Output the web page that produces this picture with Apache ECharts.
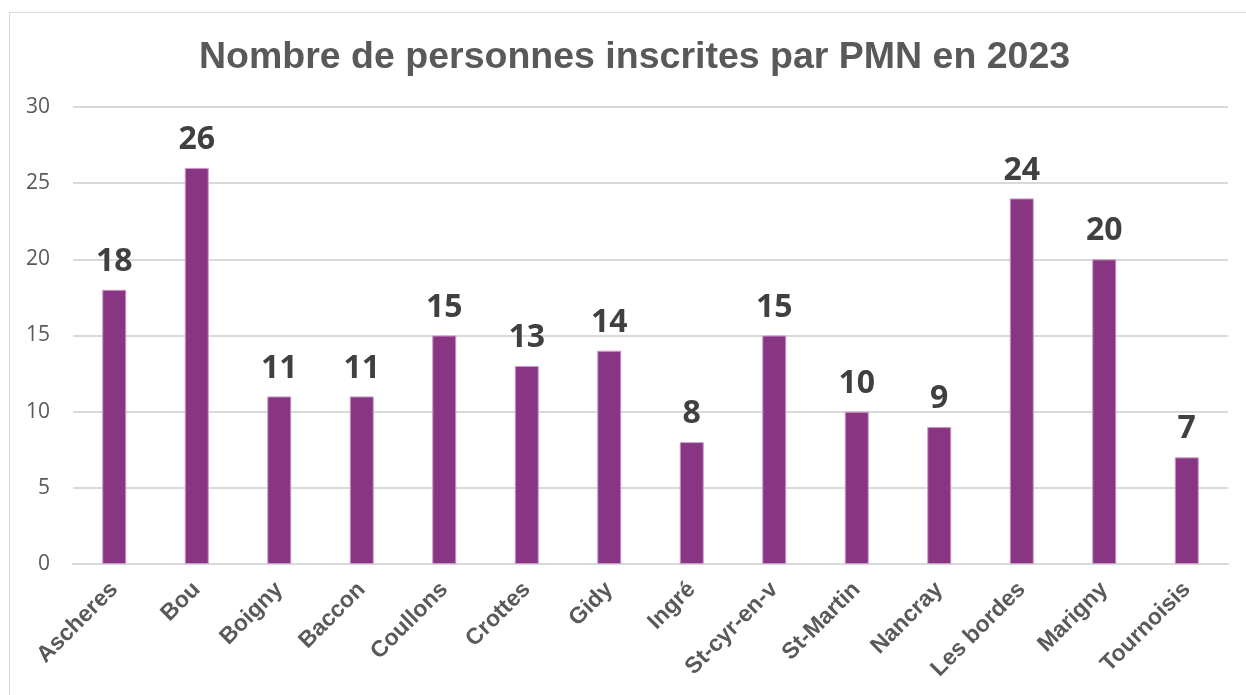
<!DOCTYPE html>
<html>
<head>
<meta charset="utf-8">
<script src="https://cdn.jsdelivr.net/npm/echarts@6/dist/echarts.min.js"></script>
<style>
  html, body { margin: 0; padding: 0; background: #fff; }
  #frame { position: absolute; left: 9px; top: 12px; width: 1300px; height: 760px; border: 1px solid #d9d9d9; }
  #chart { position: absolute; left: 0; top: 0; width: 1246px; height: 695px; }
</style>
</head>
<body>
<div id="frame"></div>
<div id="chart"></div>
<script>
var communes = ['Ascheres', 'Bou', 'Boigny', 'Baccon', 'Coullons', 'Crottes', 'Gidy', 'Ingré',
                'St-cyr-en-v', 'St-Martin', 'Nancray', 'Les bordes', 'Marigny', 'Tournoisis'];
var inscrits = [18, 26, 11, 11, 15, 13, 14, 8, 15, 10, 9, 24, 20, 7];

var myChart = echarts.init(document.getElementById('chart'));
var option = {
    title: {
        text: 'Nombre de personnes inscrites par PMN en 2023',
        left: 194,
        top: 34,
        textStyle: {
            fontFamily: 'Liberation Sans',
            fontWeight: 'bold',
            fontSize: 37.5,
            color: '#595959'
        }
    },
    grid: {
        left: 73,
        right: 18,
        top: 107,
        bottom: 131,
        containLabel: false
    },
    xAxis: {
        type: 'category',
        data: communes,
        axisLine: { lineStyle: { color: '#d9d9d9', width: 2 } },
        axisTick: { show: false },
        axisLabel: {
            rotate: 45,
            interval: 0,
            margin: 22,
            fontFamily: 'Liberation Sans',
            fontWeight: 'bold',
            fontSize: 23,
            color: '#595959'
        }
    },
    yAxis: {
        type: 'value',
        min: 0,
        max: 30,
        interval: 5,
        axisLine: { show: false },
        axisTick: { show: false },
        splitLine: { lineStyle: { color: '#d9d9d9', width: 2 } },
        axisLabel: {
            margin: 23,
            fontFamily: 'Open Sans',
            fontSize: 21,
            color: '#595959'
        }
    },
    series: [{
        type: 'bar',
        data: inscrits,
        barWidth: 24,
        itemStyle: {
            color: '#883584',
            borderColor: '#c99bc6',
            borderWidth: 1
        },
        label: {
            show: true,
            position: 'top',
            distance: 12,
            fontFamily: 'Open Sans',
            fontWeight: 'bold',
            fontSize: 32,
            color: '#404040'
        }
    }]
};
myChart.setOption(option);
</script>
</body>
</html>
